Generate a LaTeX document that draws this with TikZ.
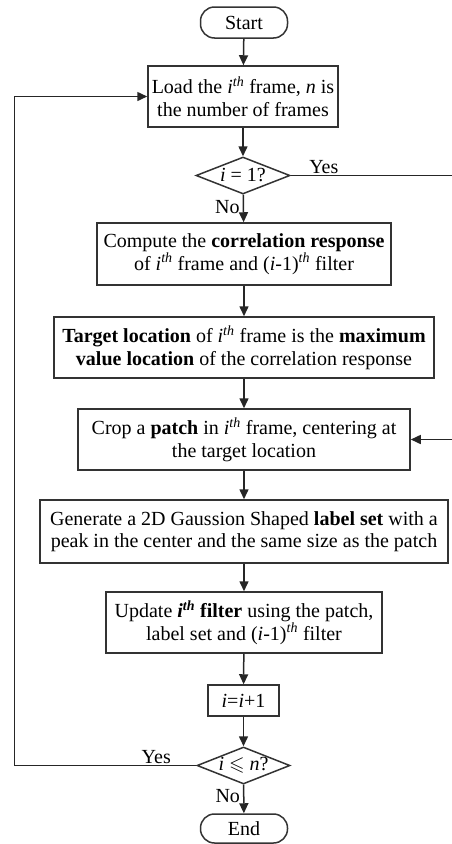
\documentclass[tikz,border=0pt]{standalone}
\usepackage{amssymb}
\usepackage{fontspec}
\setmainfont{Liberation Serif}
\usetikzlibrary{arrows.meta,shapes.geometric}
\newcommand{\thsup}{\textsuperscript{\itshape th}}
\begin{document}
\begin{tikzpicture}[x=1pt,y=1pt,
  font=\fontsize{20}{22.5}\selectfont,
  line width=1.5pt,
  every node/.style={draw=black!80, line width=1.5pt, align=center, inner sep=0pt},
  procbox/.style={rectangle},
  termbox/.style={rectangle, rounded corners=14pt},
  decbox/.style={diamond, aspect=2.5},
  flow/.style={draw=black!85, -{Triangle[length=10pt,width=9pt]}},
  lbl/.style={draw=none, font=\fontsize{20}{22}\selectfont}]
\useasboundingbox (0,0) rectangle (451,-844);

% process nodes
\node[termbox, minimum width=87, minimum height=31] (start) at (244,-22.5) {Start};
\node[procbox, minimum width=190, minimum height=61] (load) at (243,-96.5)
  {Load the \textit{i}\thsup{} frame, \textit{n} is\\ the number of frames};
\node[decbox, minimum width=94, minimum height=37] (d1) at (243,-175.5) {\textit{i} = 1?};
\node[procbox, minimum width=294, minimum height=62] (comp) at (244,-254)
  {Compute the \textbf{correlation response}\\ of \textit{i}\thsup{} frame and (\textit{i}-1)\thsup{} filter};
\node[procbox, minimum width=380, minimum height=61] (target) at (244,-347.5)
  {\textbf{Target location} of \textit{i}\thsup{} frame is the \textbf{maximum}\\ \textbf{value location} of the correlation response};
\node[procbox, minimum width=332, minimum height=61] (crop) at (244,-439.5)
  {Crop a \textbf{patch} in \textit{i}\thsup{} frame, centering at\\ the target location};
\node[procbox, minimum width=408, minimum height=63] (gen) at (244,-531.5)
  {Generate a 2D Gaussion Shaped \textbf{label set} with a\\ peak in the center and the same size as the patch};
\node[procbox, minimum width=276, minimum height=61] (upd) at (244,-622.5)
  {Update \textbf{\textit{i}\textsuperscript{\itshape th} filter} using the patch,\\ label set and (\textit{i}-1)\thsup{} filter};
\node[procbox, minimum width=71, minimum height=31] (inc) at (243.5,-700.5) {\textit{i}=\textit{i}+1};
\node[decbox, minimum width=93, minimum height=37] (d2) at (243.5,-765.5) {\textit{i} $\leqslant$ \textit{n}?};
\node[termbox, minimum width=87, minimum height=29] (end) at (244,-828.5) {End};

% loop-back and skip coordinates
\coordinate (lft) at (14.5,-765.5);
\coordinate (rgt) at (456,-175.5);

% main flow
\draw[flow] (start) -- (load);
\draw[flow] (load) -- (d1);
\draw[flow] (d1) -- node[lbl, left, pos=0.45, xshift=-3] {No} (comp);
\draw[flow] (comp) -- (target);
\draw[flow] (target) -- (crop);
\draw[flow] (crop) -- (gen);
\draw[flow] (gen) -- (upd);
\draw[flow] (upd) -- (inc);
\draw[flow] (inc) -- (d2);
\draw[flow] (d2) -- node[lbl, left, pos=0.4, xshift=-3] {No} (end);

% branches
\draw[flow] (d2.west) -- node[lbl, above, pos=0.22, yshift=1] {Yes} (lft) |- (load.west);
\draw[flow] (d1.east) -- node[lbl, above, pos=0.2, yshift=1] {Yes} (rgt) |- (crop.east);
\end{tikzpicture}
\end{document}
